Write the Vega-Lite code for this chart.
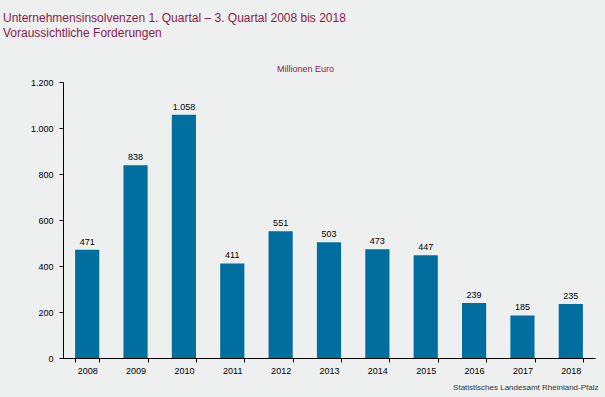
{
  "$schema": "https://vega.github.io/schema/vega-lite/v6.json",
  "width": 532,
  "height": 276,
  "autosize": "none",
  "padding": {"left": 63, "top": 82, "right": 10, "bottom": 39},
  "background": "#eeefef",
  "config": {
    "view": {"stroke": null},
    "font": "Liberation Sans",
    "locale": {"number": {"decimal": ",", "thousands": ".", "grouping": [3], "currency": ["", " €"]}}
  },
  "title": {
    "text": ["Unternehmensinsolvenzen 1. Quartal – 3. Quartal 2008 bis 2018", "Voraussichtliche Forderungen"],
    "anchor": "start",
    "frame": "group",
    "dx": -60,
    "offset": 24,
    "fontSize": 12,
    "fontWeight": "normal",
    "lineHeight": 15,
    "color": "#8b1a4a"
  },
  "data": {
    "values": [
      {"jahr": "2008", "wert": 471},
      {"jahr": "2009", "wert": 838},
      {"jahr": "2010", "wert": 1058},
      {"jahr": "2011", "wert": 411},
      {"jahr": "2012", "wert": 551},
      {"jahr": "2013", "wert": 503},
      {"jahr": "2014", "wert": 473},
      {"jahr": "2015", "wert": 447},
      {"jahr": "2016", "wert": 239},
      {"jahr": "2017", "wert": 185},
      {"jahr": "2018", "wert": 235}
    ]
  },
  "encoding": {
    "x": {
      "field": "jahr",
      "type": "ordinal",
      "scale": {"paddingInner": 0.5, "paddingOuter": 0.25},
      "axis": {
        "title": "Statistisches Landesamt Rheinland-Pfalz",
        "titleFontSize": 8,
        "titleFontWeight": "normal",
        "titleColor": "#333333",
        "titleAnchor": "end",
        "titleAlign": "right",
        "titleX": 535,
        "titleY": 29,
        "titleBaseline": "middle",
        "labelAngle": 0,
        "labelFontSize": 9,
        "labelColor": "#000000",
        "labelPadding": 4,
        "tickBand": "extent",
        "tickSize": 4,
        "tickColor": "#000000",
        "domainColor": "#000000",
        "grid": false
      }
    },
    "y": {
      "field": "wert",
      "type": "quantitative",
      "scale": {"domain": [0, 1200]},
      "axis": {
        "title": "Millionen Euro",
        "titleAngle": 0,
        "titleX": 242,
        "titleY": -14,
        "titleAlign": "center",
        "titleBaseline": "middle",
        "titleFontSize": 9,
        "titleFontWeight": "normal",
        "titleColor": "#8b1a4a",
        "values": [0, 200, 400, 600, 800, 1000, 1200],
        "format": ",d",
        "labelFontSize": 9,
        "labelColor": "#000000",
        "labelPadding": 6,
        "tickSize": 4,
        "tickColor": "#000000",
        "domainColor": "#000000",
        "grid": false
      }
    }
  },
  "layer": [
    {"mark": {"type": "bar", "color": "#006fa0"}},
    {
      "mark": {"type": "text", "dy": -8, "fontSize": 9, "color": "#000000"},
      "encoding": {"text": {"field": "wert", "type": "quantitative", "format": ",d"}}
    }
  ]
}
